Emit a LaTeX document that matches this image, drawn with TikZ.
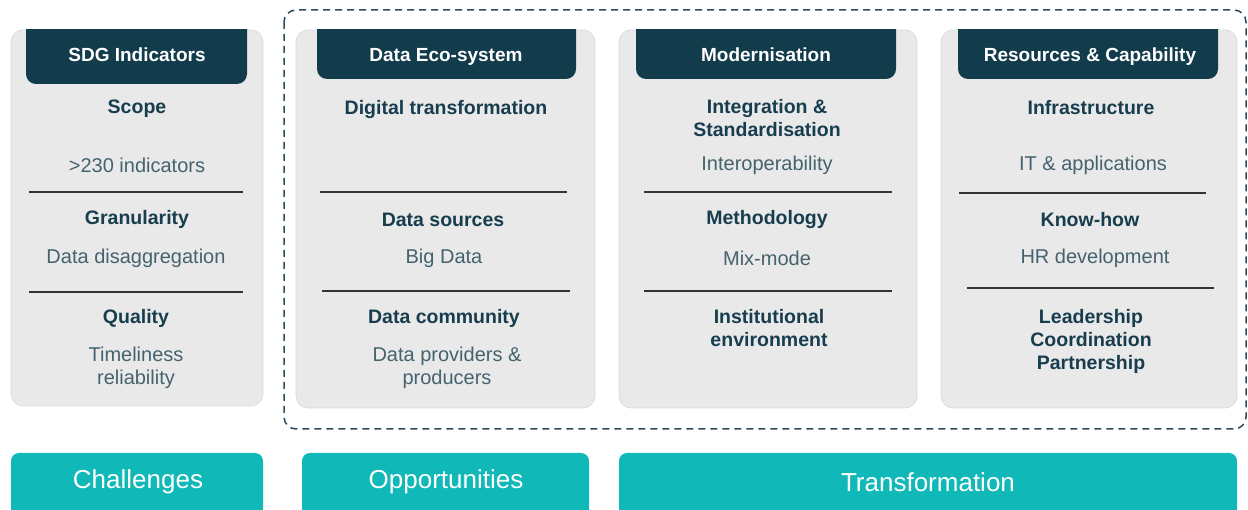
\documentclass[tikz,border=0pt]{standalone}
\usepackage{fontspec}
\setmainfont{Liberation Sans}
\definecolor{hdr}{HTML}{123B4C}
\definecolor{card}{HTML}{E9E9E9}
\definecolor{cardline}{HTML}{D8D8D8}
\definecolor{tealbtn}{HTML}{10B8B8}
\definecolor{htext}{HTML}{173D4E}
\definecolor{btext}{HTML}{45636F}
\definecolor{rulec}{HTML}{333333}
\definecolor{dashc}{HTML}{2E4957}
\begin{document}
\begin{tikzpicture}[x=1pt,y=-1pt,
 cardbox/.style={fill=card,draw=cardline,line width=0.6pt,rounded corners=12pt},
 hdrtext/.style={text=white,font=\fontsize{19}{23}\selectfont\bfseries,anchor=base,inner sep=0pt},
 head/.style={text=htext,font=\fontsize{19.5}{23}\selectfont\bfseries,align=center,anchor=base,inner sep=0pt},
 body/.style={text=btext,font=\fontsize{20}{23}\selectfont,align=center,anchor=base,inner sep=0pt},
 sepline/.style={draw=rulec,line width=2pt},
 btn/.style={fill=tealbtn,rounded corners=8pt},
 btntext/.style={text=white,font=\fontsize{26}{29}\selectfont,anchor=base,inner sep=0pt}
]
\clip (0,0) rectangle (1248,510);
\fill[white] (0,0) rectangle (1248,510);

% dashed frame
\draw[dashc,line width=1.5pt,dash pattern=on 7pt off 5pt,rounded corners=12pt] (284,10) rectangle (1246,429);

% cards
\path[cardbox] (11,30) rectangle (263,406);
\path[cardbox] (296,30) rectangle (595,408);
\path[cardbox] (619,30) rectangle (917,408);
\path[cardbox] (941,30) rectangle (1237,408);

% headers
\begin{scope}\clip (26,30) rectangle (247,100);
\fill[hdr,rounded corners=10pt] (26,10) rectangle (247,84);\end{scope}
\begin{scope}\clip (317,30) rectangle (576,100);
\fill[hdr,rounded corners=10pt] (317,10) rectangle (576,79);\end{scope}
\begin{scope}\clip (636,30) rectangle (896,100);
\fill[hdr,rounded corners=10pt] (636,10) rectangle (896,79);\end{scope}
\begin{scope}\clip (958,30) rectangle (1218,100);
\fill[hdr,rounded corners=10pt] (958,10) rectangle (1218,79);\end{scope}

\node[hdrtext] (h1) at (137,62) {SDG Indicators};
\node[hdrtext] (h2) at (446,62) {Data Eco-system};
\node[hdrtext] (h3) at (766,62) {Modernisation};
\node[hdrtext] (h4) at (1090,62) {Resources \& Capability};

% card 1
\node[head] (c1a) at (137,114) {Scope};
\node[body] (c1b) at (137,173) {>230 indicators};
\draw[sepline] (29,192) -- (243,192);
\node[head] (c1c) at (137,225) {Granularity};
\node[body] (c1d) at (136,264) {Data disaggregation};
\draw[sepline] (29,292) -- (243,292);
\node[head] (c1e) at (136,324) {Quality};
\node[body] (c1f) at (136,385) {Timeliness\\reliability};

% card 2
\node[head] (c2a) at (446,115) {Digital transformation};
\draw[sepline] (320,192) -- (567,192);
\node[head] (c2b) at (443,227) {Data sources};
\node[body] (c2c) at (444,264) {Big Data};
\draw[sepline] (322,291) -- (570,291);
\node[head] (c2d) at (444,324) {Data community};
\node[body] (c2e) at (447,385) {Data providers \&\\producers};

% card 3
\node[head] (c3a) at (767,137) {Integration \&\\Standardisation};
\node[body] (c3b) at (767,171) {Interoperability};
\draw[sepline] (644,192) -- (892,192);
\node[head] (c3c) at (767,225) {Methodology};
\node[body] (c3d) at (767,266) {Mix-mode};
\draw[sepline] (644,291) -- (892,291);
\node[head] (c3e) at (769,347) {Institutional\\environment};

% card 4
\node[head] (c4a) at (1091,115) {Infrastructure};
\node[body] (c4b) at (1093,171) {IT \& applications};
\draw[sepline] (959,193) -- (1206,193);
\node[head] (c4c) at (1090,227) {Know-how};
\node[body] (c4d) at (1095,264) {HR development};
\draw[sepline] (967,288) -- (1214,288);
\node[head] (c4e) at (1091,370) {Leadership\\Coordination\\Partnership};

% bottom buttons
\path[btn] (11,453) rectangle (263,520);
\path[btn] (302,453) rectangle (589,520);
\path[btn] (619,453) rectangle (1237,520);
\node[btntext] (b1) at (138,489) {Challenges};
\node[btntext] (b2) at (446,489) {Opportunities};
\node[btntext] (b3) at (928,491) {Transformation};
\end{tikzpicture}
\end{document}
